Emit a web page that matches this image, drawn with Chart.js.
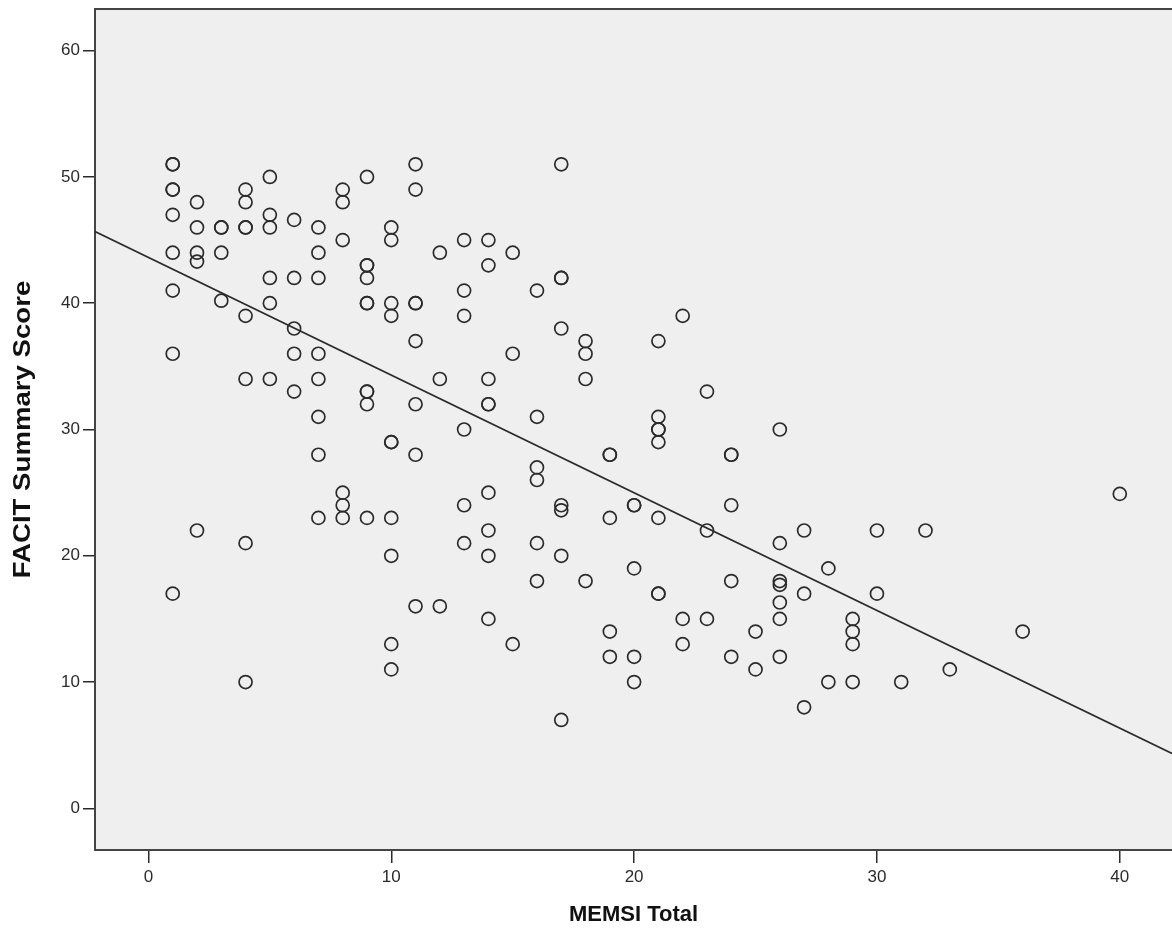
<!DOCTYPE html>
<html>
<head>
<meta charset="utf-8">
<title>FACIT vs MEMSI</title>
<script src="https://cdn.jsdelivr.net/npm/chart.js@4/dist/chart.umd.min.js"></script>
<style>
    html, body { margin: 0; padding: 0; background: #ffffff; overflow: hidden; }
    canvas { display: block; }
</style>
</head>
<body>
<canvas id="scatterChart" width="1172" height="939"></canvas>
<script>
// MEMSI total per respondent (paired with facitScore below)
const memsiTotal = [
    1, 1, 1, 1, 1, 1, 1, 1, 1,
    2, 2, 2, 2, 2,
    3, 3, 3, 3,
    4, 4, 4, 4, 4, 4, 4, 4,
    5, 5, 5, 5, 5, 5,
    6, 6, 6, 6, 6,
    7, 7, 7, 7, 7, 7, 7, 7,
    8, 8, 8, 8, 8, 8,
    9, 9, 9, 9, 9, 9, 9, 9, 9, 9,
    10, 10, 10, 10, 10, 10, 10, 10, 10, 10,
    11, 11, 11, 11, 11, 11, 11, 11,
    12, 12, 12,
    13, 13, 13, 13, 13, 13,
    14, 14, 14, 14, 14, 14, 14, 14, 14,
    15, 15, 15,
    16, 16, 16, 16, 16, 16,
    17, 17, 17, 17, 17, 17, 17, 17,
    18, 18, 18, 18,
    19, 19, 19, 19, 19,
    20, 20, 20, 20, 20,
    21, 21, 21, 21, 21, 21, 21, 21,
    22, 22, 22,
    23, 23, 23,
    24, 24, 24, 24, 24,
    25, 25,
    26, 26, 26, 26, 26, 26, 26,
    27, 27, 27,
    28, 28,
    29, 29, 29, 29,
    30, 30,
    31, 32, 33, 36, 40
];

// FACIT summary score per respondent
const facitScore = [
    51, 51, 49, 49, 47, 44, 41, 36, 17,
    48, 46, 44, 43.3, 22,
    46, 46, 44, 40.2,
    49, 48, 46, 46, 39, 34, 21, 10,
    50, 47, 46, 42, 40, 34,
    46.6, 42, 38, 36, 33,
    46, 44, 42, 36, 34, 31, 28, 23,
    49, 48, 45, 25, 24, 23,
    50, 43, 43, 42, 40, 40, 33, 33, 32, 23,
    46, 45, 40, 39, 29, 29, 23, 20, 13, 11,
    51, 49, 40, 40, 37, 32, 28, 16,
    44, 34, 16,
    45, 41, 39, 30, 24, 21,
    45, 43, 34, 32, 32, 25, 22, 20, 15,
    44, 36, 13,
    41, 31, 27, 26, 21, 18,
    51, 42, 42, 38, 24, 23.6, 20, 7,
    37, 36, 34, 18,
    28, 28, 23, 14, 12,
    24, 24, 19, 12, 10,
    37, 31, 30, 30, 29, 23, 17, 17,
    39, 15, 13,
    33, 22, 15,
    28, 28, 24, 18, 12,
    14, 11,
    30, 21, 18, 17.7, 16.3, 15, 12,
    22, 17, 8,
    19, 10,
    15, 14, 13, 10,
    22, 17,
    10, 22, 11, 14, 24.9
];

// Linear fit line (total fit)
const fitIntercept = 43.63;
const fitSlope = -0.932;

// Axis ranges and tick labels
const xRange = [-2.2, 42.15];
const yRange = [-3.3, 63.3];
const xTickValues = [0, 10, 20, 30, 40];
const yTickValues = [0, 10, 20, 30, 40, 50, 60];
const yAxisTitle = 'FACIT Summary Score';

const FONT = "'Liberation Sans', Arial, sans-serif";
const INK = '#2b2b2b';

const points = memsiTotal.map((x, i) => ({ x: x, y: facitScore[i] }));
const fitLine = xRange.map(x => ({ x: x, y: fitIntercept + fitSlope * x }));

/**
 * Grey plot panel with a top frame line
 */
const panelPlugin = {
    id: 'panel',
    beforeDraw(chart) {
        const { ctx, chartArea: a } = chart;
        ctx.save();
        ctx.fillStyle = '#efefef';
        ctx.fillRect(a.left, a.top, a.right - a.left, a.bottom - a.top);
        ctx.strokeStyle = '#444444';
        ctx.lineWidth = 2;
        ctx.beginPath();
        ctx.moveTo(a.left, a.top);
        ctx.lineTo(a.right, a.top);
        ctx.stroke();
        ctx.restore();
    }
};

/**
 * Vertical axis title, drawn a bit wider along its baseline
 */
const yTitlePlugin = {
    id: 'yTitle',
    afterDraw(chart) {
        const { ctx, chartArea: a } = chart;
        ctx.save();
        ctx.translate(24, (a.top + a.bottom) / 2);
        ctx.rotate(-Math.PI / 2);
        ctx.scale(1.2, 1);
        ctx.font = 'bold 23px ' + FONT;
        ctx.fillStyle = '#111111';
        ctx.textAlign = 'center';
        ctx.textBaseline = 'middle';
        ctx.fillText(yAxisTitle, 0, 0);
        ctx.restore();
    }
};

const ctx = document.getElementById('scatterChart');

new Chart(ctx, {
    type: 'scatter',
    data: {
        datasets: [
            {
                label: 'Observed',
                data: points,
                pointStyle: 'circle',
                pointRadius: 6.5,
                pointBorderWidth: 1.7,
                borderColor: INK,
                backgroundColor: 'rgba(0,0,0,0)',
                order: 2
            },
            {
                type: 'line',
                label: 'Linear',
                data: fitLine,
                borderColor: INK,
                borderWidth: 1.6,
                pointRadius: 0,
                fill: false,
                order: 1
            }
        ]
    },
    options: {
        responsive: false,
        animation: false,
        events: [],
        devicePixelRatio: 1,
        layout: { autoPadding: false, padding: { left: 0, top: 9, right: 0, bottom: 0 } },
        plugins: {
            legend: { display: false },
            tooltip: { enabled: false }
        },
        scales: {
            x: {
                type: 'linear',
                min: xRange[0],
                max: xRange[1],
                afterBuildTicks: s => { s.ticks = xTickValues.map(v => ({ value: v })); },
                afterFit: s => { s.height = 89; s.paddingLeft = 0; s.paddingRight = 0; },
                grid: { drawOnChartArea: false, drawTicks: true, tickLength: 13, color: INK, lineWidth: 1.5 },
                border: { display: true, color: '#444444', width: 2 },
                ticks: { color: INK, padding: 4, font: { family: FONT, size: 17 }, maxRotation: 0 },
                title: {
                    display: true,
                    text: 'MEMSI Total',
                    color: '#111111',
                    font: { family: FONT, size: 22, weight: 'bold' },
                    padding: { top: 0, bottom: 11 }
                }
            },
            y: {
                type: 'linear',
                min: yRange[0],
                max: yRange[1],
                afterBuildTicks: s => { s.ticks = yTickValues.map(v => ({ value: v })); },
                afterFit: s => { s.width = 95; s.paddingTop = 0; s.paddingBottom = 0; },
                grid: { drawOnChartArea: false, drawTicks: true, tickLength: 12, color: INK, lineWidth: 1.5 },
                border: { display: true, color: '#444444', width: 2 },
                ticks: { color: INK, padding: 3, font: { family: FONT, size: 17 } },
                title: { display: false }
            }
        }
    },
    plugins: [panelPlugin, yTitlePlugin]
});
</script>
</body>
</html>
